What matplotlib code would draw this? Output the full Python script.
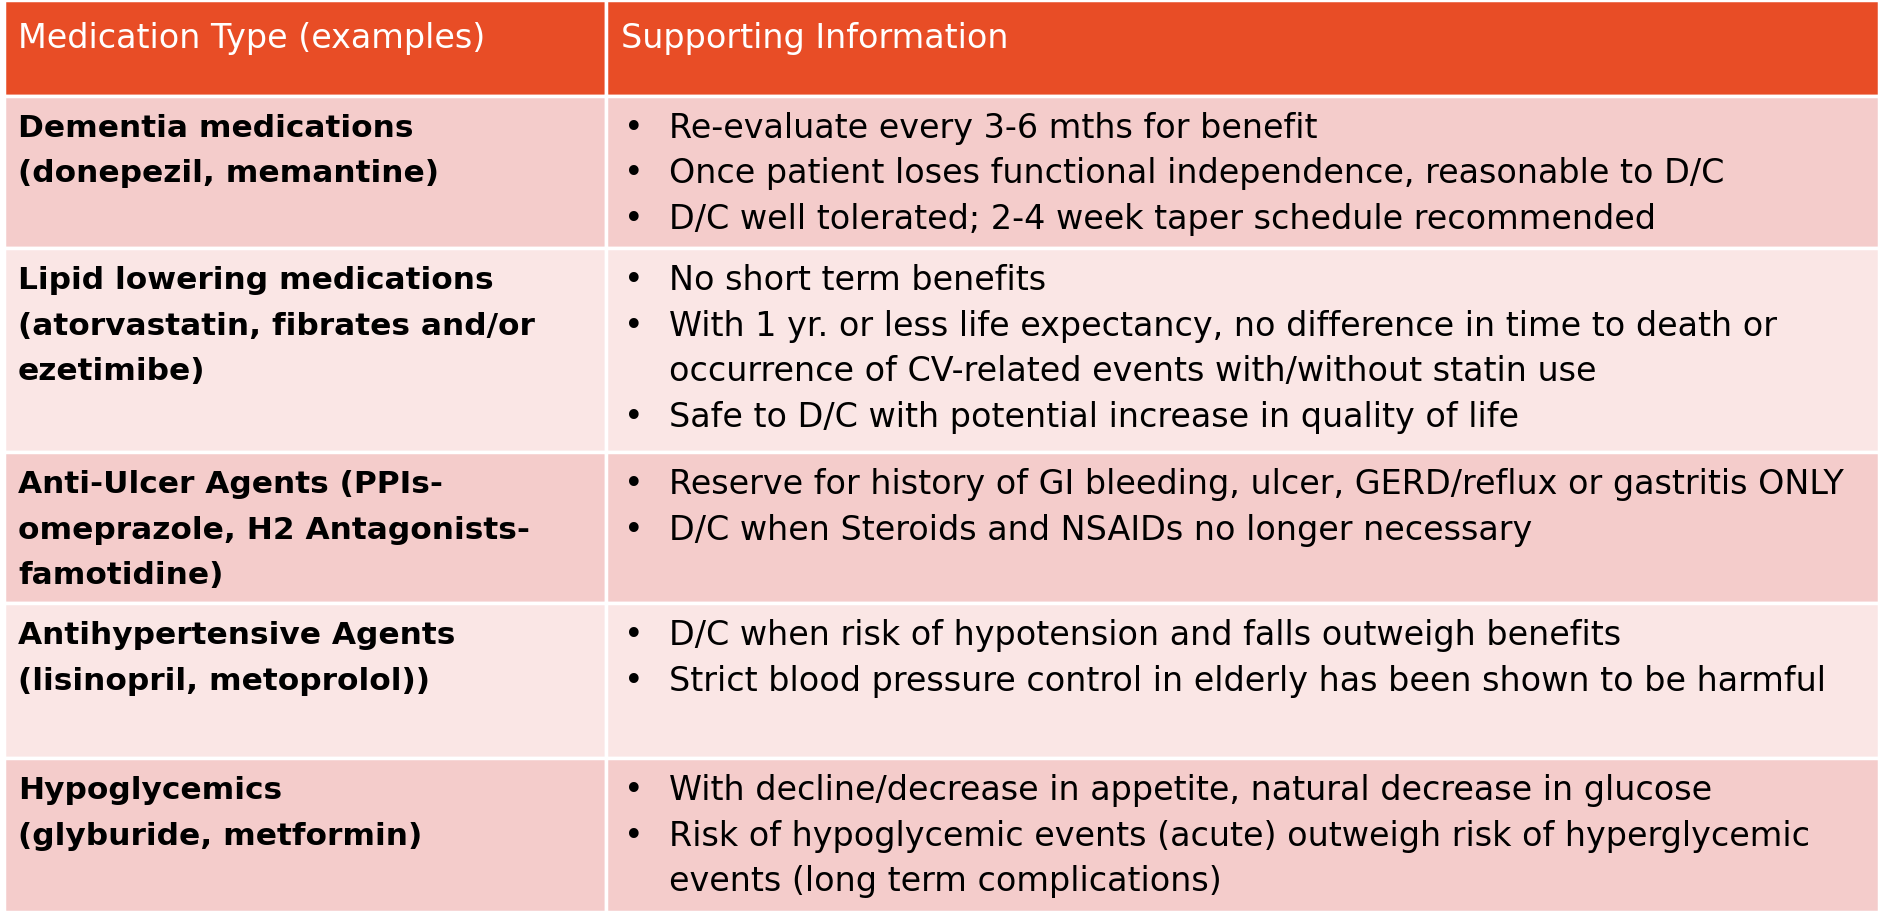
import matplotlib
matplotlib.use("Agg")
import matplotlib.pyplot as plt
from matplotlib.patches import Rectangle

headers = ["Medication Type (examples)", "Supporting Information"]
med_types = [
    ["Dementia medications", "(donepezil, memantine)"],
    ["Lipid lowering medications", "(atorvastatin, fibrates and/or", "ezetimibe)"],
    ["Anti-Ulcer Agents (PPIs-", "omeprazole, H2 Antagonists-", "famotidine)"],
    ["Antihypertensive Agents", "(lisinopril, metoprolol))"],
    ["Hypoglycemics", "(glyburide, metformin)"],
]
info = [
    [["Re-evaluate every 3-6 mths for benefit"],
     ["Once patient loses functional independence, reasonable to D/C"],
     ["D/C well tolerated; 2-4 week taper schedule recommended"]],
    [["No short term benefits"],
     ["With 1 yr. or less life expectancy, no difference in time to death or",
      "occurrence of CV-related events with/without statin use"],
     ["Safe to D/C with potential increase in quality of life"]],
    [["Reserve for history of GI bleeding, ulcer, GERD/reflux or gastritis ONLY"],
     ["D/C when Steroids and NSAIDs no longer necessary"]],
    [["D/C when risk of hypotension and falls outweigh benefits"],
     ["Strict blood pressure control in elderly has been shown to be harmful"]],
    [["With decline/decrease in appetite, natural decrease in glucose"],
     ["Risk of hypoglycemic events (acute) outweigh risk of hyperglycemic",
      "events (long term complications)"]],
]

S = 1881 / 1568
row_edges = [0, 80, 207, 377, 503, 632, 760]
x0, xs, x1 = 3, 505, 1566
header_col = "#E84D26"
row_cols = ["#F4CCCB", "#FAE6E5"]
fs = 24
fsb = 22.5
fam = "DejaVu Sans"

fig = plt.figure(figsize=(18.81, 9.23), dpi=100)
ax = fig.add_axes([0, 0, 1, 1])
ax.set_xlim(0, 1881); ax.set_ylim(923, 0); ax.axis("off")

for r in range(6):
    top, bot = row_edges[r] * S, row_edges[r + 1] * S
    c = header_col if r == 0 else row_cols[(r - 1) % 2]
    for a, b in [(x0, xs), (xs, x1)]:
        ax.add_patch(Rectangle((a * S, top), (b - a) * S, bot - top, fc=c, ec="white", lw=2.5))

ax.text(15 * S, 32 * S, headers[0], color="white", fontsize=fs, family=fam, va="center")
ax.text(518 * S, 32 * S, headers[1], color="white", fontsize=fs, family=fam, va="center")

lh = 38 * S
for r in range(5):
    top = row_edges[r + 1] * S + 27 * S
    for i, t in enumerate(med_types[r]):
        ax.text(15 * S, top + i * lh, t, fontsize=fsb, family=fam, weight="bold", va="center", color="black")
    k = 0
    for b in info[r]:
        ax.text(520 * S, top + k * lh, "•", fontsize=fs, family=fam, va="center")
        for t in b:
            ax.text(558 * S, top + k * lh, t, fontsize=fs, family=fam, va="center")
            k += 1

fig.savefig("out.png", dpi=100, facecolor="white")
